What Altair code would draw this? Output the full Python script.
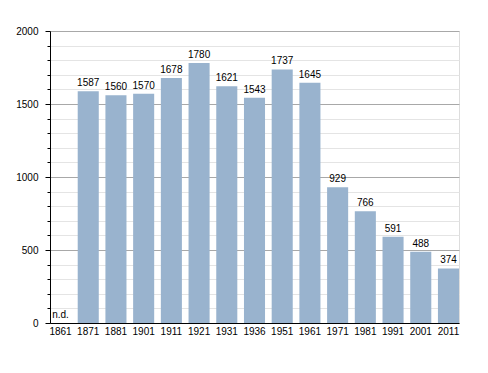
import altair as alt
import pandas as pd

years = ["1861", "1871", "1881", "1901", "1911", "1921", "1931", "1936",
         "1951", "1961", "1971", "1981", "1991", "2001", "2011"]
population = [0, 1587, 1560, 1570, 1678, 1780, 1621, 1543,
              1737, 1645, 929, 766, 591, 488, 374]
labels = ["n.d.", "1587", "1560", "1570", "1678", "1780", "1621", "1543",
          "1737", "1645", "929", "766", "591", "488", "374"]
major_ticks = [0, 500, 1000, 1500, 2000]
minor_ticks = [v for v in range(0, 2001, 100) if v % 500 != 0]

df = pd.DataFrame({"year": years, "pop": population, "label": labels})

FONT = "Liberation Sans"

x_enc = alt.X(
    "year:N", sort=years, title=None,
    scale=alt.Scale(paddingInner=0.24, paddingOuter=0.0),
    axis=alt.Axis(labelAngle=0, tickSize=0, labelPadding=3, domainColor="black",
                  labelColor="black", labelFont=FONT, labelFontSize=10, grid=False),
)
y_scale = alt.Scale(domain=[0, 2000], nice=False)

bars = alt.Chart(df).mark_bar(color="#99b3ce").encode(
    x=x_enc,
    y=alt.Y("pop:Q", scale=y_scale, title=None,
            axis=alt.Axis(values=major_ticks, format="d", orient="left", tickSize=5,
                          tickColor="black", domainColor="black", labelColor="black",
                          labelFont=FONT, labelFontSize=10, labelPadding=7,
                          grid=True, gridColor="#a8a8a8", gridWidth=1)),
)

text = alt.Chart(df).mark_text(baseline="alphabetic", dy=-5, font=FONT,
                               fontSize=10, color="black").encode(
    x=alt.X("year:N", sort=years),
    y=alt.Y("pop:Q", scale=y_scale, title=None,
            axis=alt.Axis(values=minor_ticks, orient="left", tickSize=3,
                          tickColor="black", labels=False, domain=False,
                          grid=True, gridColor="#e4e4e4", gridWidth=1)),
    text="label:N",
)

chart = alt.layer(bars, text).resolve_axis(y="independent").properties(
    width=409, height=292,
    autosize=alt.AutoSizeParams(type="none"),
    padding={"left": 42, "top": 23, "right": 10, "bottom": 30},
).configure_view(stroke=None).configure(background="white")

chart.save("out.html", embed_options={"renderer": "svg", "actions": False})
